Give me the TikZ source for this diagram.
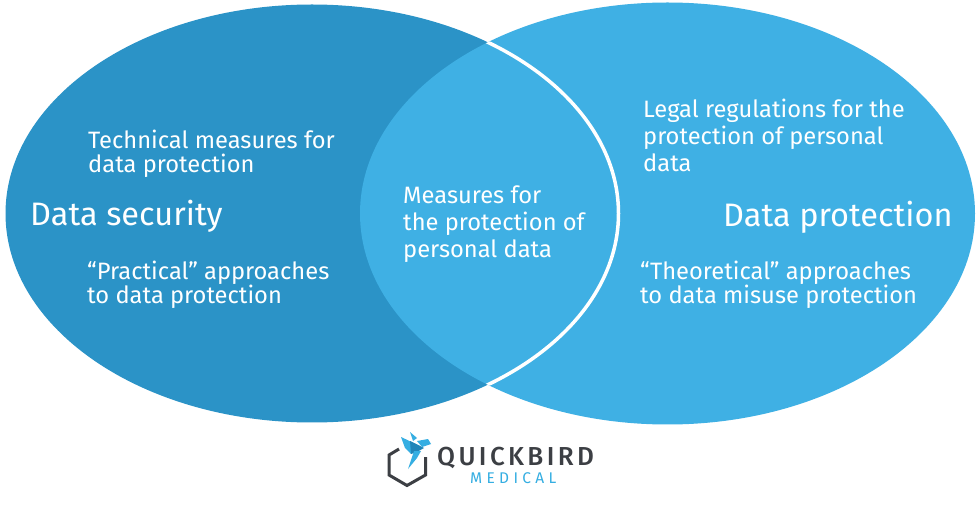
\documentclass[tikz,border=0pt]{standalone}
\usepackage{fontspec}
\setmainfont{Fira Sans}
\newfontfamily\logofont[LetterSpace=13]{Fira Sans Medium}
\newfontfamily\logolight[LetterSpace=28]{Fira Sans}
\definecolor{darkblue}{HTML}{2B93C7}
\definecolor{lightblue}{HTML}{3FB0E4}
\definecolor{logogray}{HTML}{3C3F44}
\definecolor{logoblue}{HTML}{35AEE2}
\definecolor{logodark}{HTML}{2185B8}
\tikzset{
  body/.style={text=white,anchor=base west,align=left,inner sep=0pt,font=\fontsize{23.7}{25}\selectfont},
  head/.style={text=white,anchor=base west,inner sep=0pt,font=\fontsize{32.5}{34}\selectfont}
}
\begin{document}
\begin{tikzpicture}[x=1pt,y=-1pt]
\useasboundingbox (0,0) rectangle (980,510);
\fill[white] (0,0) rectangle (980,510);
\fill[lightblue] (667.5,213.5) ellipse [x radius=307.5,y radius=211];
\fill[darkblue] (312,213.5) ellipse [x radius=306.5,y radius=209];
\begin{scope}
\clip (667.5,213.5) ellipse [x radius=307.5,y radius=211];
\fill[lightblue] (312,213.5) ellipse [x radius=306.5,y radius=209];
\draw[white,line width=3.5pt] (312,213.5) ellipse [x radius=306.5,y radius=209];
\end{scope}
\node[head] (ds) at (30,226) {Data security};
\node[head] (dp) at (723,227) {Data protection};
\node[body] (t1a) at (88,149) {Technical measures for};
\node[body] (t1b) at (88,173) {data protection};
\node[body] (t2a) at (87,280) {“Practical” approaches};
\node[body] (t2b) at (87,304) {to data protection};
\node[body] (m1) at (403,204) {Measures for};
\node[body] (m2) at (403,231) {the protection of};
\node[body] (m3) at (403,258) {personal data};
\node[body] (l1) at (643,118) {Legal regulations for the};
\node[body] (l2) at (643,145) {protection of personal};
\node[body] (l3) at (643,172) {data};
\node[body] (p1) at (640,280) {“Theoretical” approaches};
\node[body] (p2) at (640,304) {to data misuse protection};
% logo
\draw[logogray,line width=3pt,line join=miter] (399,449) -- (389,455) -- (389,475) -- (407,485.5) -- (425.5,475) -- (425.5,457);
\fill[logoblue] (401,437) -- (420,446) -- (411,454) -- (405,448) -- cycle;
\fill[logodark] (410,441) -- (424,448) -- (417,452) -- (411,454) -- cycle;
\fill[logoblue] (410,432) -- (417,438) -- (413,441) -- cycle;
\fill[logoblue] (417,441) -- (428,439) -- (431,444) -- (422,447) -- cycle;
\fill[logoblue] (414,451) -- (421,451) -- (417,458) -- (408,469) -- cycle;
\node[anchor=base west,inner sep=0pt,text=logogray,font=\logofont\fontsize{26}{26}\selectfont] (qb) at (437,465) {QUICKBIRD};
\node[anchor=base west,inner sep=0pt,text=logoblue,font=\logolight\fontsize{15.5}{15.5}\selectfont] (md) at (470,483.5) {MEDICAL};
\end{tikzpicture}
\end{document}
